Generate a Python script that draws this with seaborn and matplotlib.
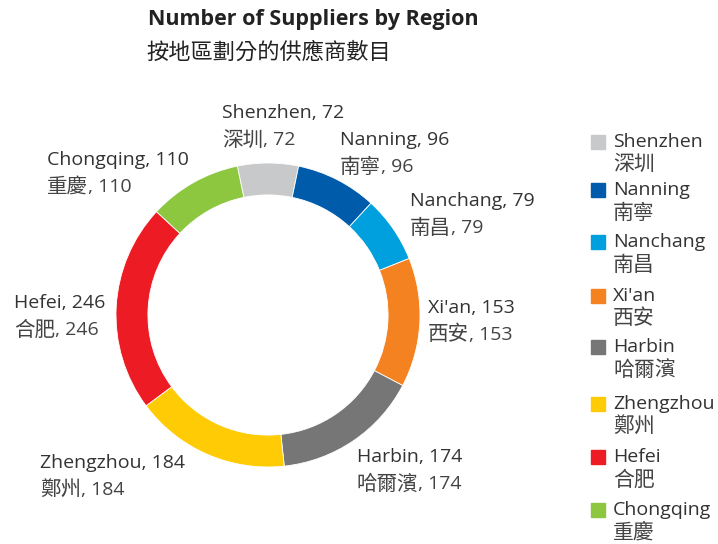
import matplotlib
matplotlib.use("Agg")
import matplotlib.pyplot as plt
from matplotlib.patches import Rectangle
import seaborn as sns

# data
regions_en = ["Shenzhen", "Nanning", "Nanchang", "Xi'an", "Harbin", "Zhengzhou", "Hefei", "Chongqing"]
regions_zh = ["深圳", "南寧", "南昌", "西安", "哈爾濱", "鄭州", "合肥", "重慶"]
suppliers = [72, 96, 79, 153, 174, 184, 246, 110]
colors = ["#C8C9CB", "#005BAA", "#00A0DF", "#F58220", "#767676", "#FFCB05", "#ED1C24", "#8DC63F"]

# label anchor positions in pixels (left edge, centre of first line)
label_pos = [(222, 113), (340, 140), (410, 201), (428, 308),
             (357, 457), (40, 463), (14, 303), (47, 160)]
legend_y = [142, 190, 242, 296, 347, 404, 457, 510]

W, H = 718, 544

sns.set_theme(style="white")
plt.rcParams["font.family"] = ["Open Sans", "Noto Sans CJK TC", "DejaVu Sans"]

fig = plt.figure(figsize=(W / 100, H / 100), dpi=100)
ax = fig.add_axes([78 / W, 1 - 505 / H, 380 / W, 380 / H])

total = sum(suppliers)
start = 90 + suppliers[0] / total * 360 / 2
ax.pie(suppliers, colors=colors, startangle=start, counterclock=False,
       wedgeprops=dict(width=0.21, edgecolor="white", linewidth=0.6))
ax.set_aspect("equal")


def px(x, y):
    return x / W, 1 - y / H


fig.text(*px(148, 20), "Number of Suppliers by Region", fontsize=15.5,
         fontweight="bold", color="#222222", va="center", ha="left")
fig.text(*px(146, 53), "按地區劃分的供應商數目", fontsize=16,
         fontweight="medium", color="#222222", va="center", ha="left")

renderer = fig.canvas.get_renderer()
for en, zh, v, (x, y) in zip(regions_en, regions_zh, suppliers, label_pos):
    fig.text(*px(x, y), f"{en}, {v}", fontsize=14, color="#333333",
             va="center", ha="left")
    t = fig.text(*px(x, y + 27), zh, fontsize=14.8, color="#444444",
                 va="center", ha="left")
    x_end = t.get_window_extent(renderer).x1
    fig.text(x_end / W, 1 - (y + 27) / H, f", {v}", fontsize=14, color="#444444",
             va="center", ha="left")

for en, zh, c, y in zip(regions_en, regions_zh, colors, legend_y):
    fig.patches.append(Rectangle(px(591, y + 7), 14 / W, 14 / H, color=c,
                                 transform=fig.transFigure, figure=fig))
    fig.text(*px(613, y), en, fontsize=14, color="#333333", va="center", ha="left")
    fig.text(*px(613, y + 23), zh, fontsize=15, color="#444444", va="center", ha="left")

fig.savefig("out.png", dpi=100)
